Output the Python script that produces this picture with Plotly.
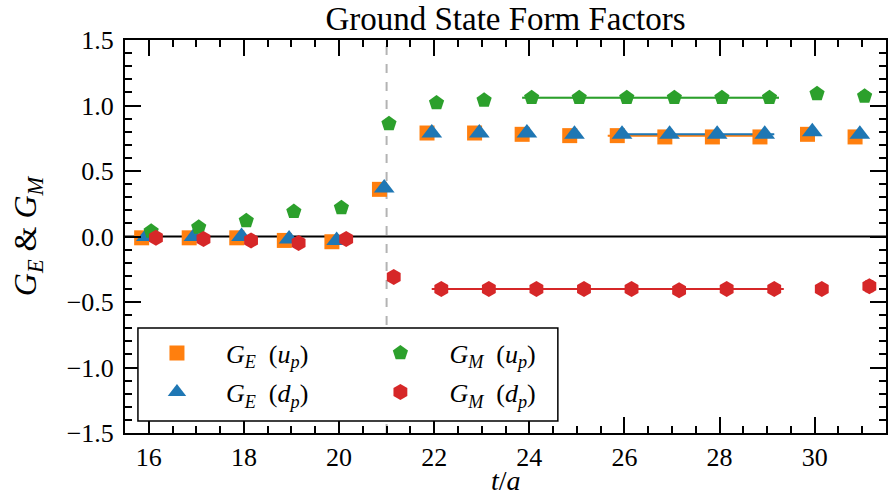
import plotly.graph_objects as go

# Euclidean time slices t/a
t = list(range(16, 32))

# Form factor ratios per time slice
ge_up = [-0.01, -0.01, -0.01, -0.03, -0.04, 0.36, 0.79, 0.79, 0.78, 0.77, 0.77, 0.76, 0.76, 0.76, 0.78, 0.76]
ge_up_err = [0.01, 0.01, 0.01, 0.01, 0.01, 0.01, 0.01, 0.01, 0.01, 0.01, 0.01, 0.01, 0.01, 0.01, 0.015, 0.02]
ge_dp = [0.00, 0.00, 0.00, -0.02, -0.03, 0.37, 0.79, 0.79, 0.79, 0.78, 0.78, 0.78, 0.78, 0.78, 0.80, 0.78]
ge_dp_err = [0.01, 0.01, 0.01, 0.01, 0.01, 0.01, 0.01, 0.01, 0.01, 0.01, 0.01, 0.01, 0.01, 0.01, 0.015, 0.02]
gm_up = [0.04, 0.07, 0.12, 0.19, 0.22, 0.86, 1.02, 1.04, 1.06, 1.06, 1.06, 1.06, 1.06, 1.06, 1.09, 1.07]
gm_up_err = [0.01, 0.01, 0.01, 0.01, 0.01, 0.01, 0.01, 0.01, 0.01, 0.01, 0.01, 0.01, 0.01, 0.015, 0.025, 0.035]
gm_dp = [-0.01, -0.02, -0.03, -0.05, -0.02, -0.31, -0.40, -0.40, -0.40, -0.40, -0.40, -0.41, -0.40, -0.40, -0.40, -0.38]
gm_dp_err = [0.01, 0.01, 0.01, 0.01, 0.01, 0.01, 0.01, 0.01, 0.01, 0.01, 0.01, 0.01, 0.01, 0.015, 0.025, 0.04]

# Plateau fits: (first slice, last slice, value, error)
fit_ge_up = (26, 29, 0.77, 0.005)
fit_ge_dp = (26, 29, 0.78, 0.005)
fit_gm_up = (24, 29, 1.06, 0.006)
fit_gm_dp = (22, 29, -0.40, 0.006)

# Source/sink separation marker
t_sep = 21

ORANGE, BLUE, GREEN, RED = "#ff7f0e", "#1f77b4", "#2ca02c", "#d62728"
FONT = "Liberation Serif"

# legend cells: two columns, two rows
COL_X = [0.0039, 0.2975]
ROW_Y = [0.2036, 0.1043]

series = [
    # name, values, errors, colour, symbol, size, x-shift, fit, legend id, (col, row)
    ("<i>G</i><sub><i>E</i></sub>  (<i>u</i><sub><i>p</i></sub>)", ge_up, ge_up_err, ORANGE, "square", 15, -0.15, fit_ge_up, "legend", (0, 0)),
    ("<i>G</i><sub><i>E</i></sub>  (<i>d</i><sub><i>p</i></sub>)", ge_dp, ge_dp_err, BLUE, "triangle-up", 18, -0.05, fit_ge_dp, "legend2", (0, 1)),
    ("<i>G</i><sub><i>M</i></sub>  (<i>u</i><sub><i>p</i></sub>)", gm_up, gm_up_err, GREEN, "pentagon", 16, 0.05, fit_gm_up, "legend3", (1, 0)),
    ("<i>G</i><sub><i>M</i></sub>  (<i>d</i><sub><i>p</i></sub>)", gm_dp, gm_dp_err, RED, "hexagon", 16, 0.15, fit_gm_dp, "legend4", (1, 1)),
]

fig = go.Figure()

# fit bands and lines, drawn beneath the points
for name, vals, errs, col, sym, size, dx, fit, leg, cell in series:
    t0, t1, val, err = fit
    xs = [t0 + dx - 0.2, t1 + dx + 0.2]
    fig.add_trace(go.Scatter(x=xs + xs[::-1], y=[val + err, val + err, val - err, val - err],
                             fill="toself", fillcolor=col, opacity=0.35, line=dict(width=0),
                             mode="lines", showlegend=False, hoverinfo="skip"))
    fig.add_trace(go.Scatter(x=xs, y=[val, val], mode="lines", line=dict(color=col, width=2),
                             showlegend=False, hoverinfo="skip"))

for name, vals, errs, col, sym, size, dx, fit, leg, cell in series:
    fig.add_trace(go.Scatter(
        x=[ti + dx for ti in t], y=vals, mode="markers", name=name,
        marker=dict(symbol=sym, size=size, color=col, line=dict(width=0)),
        error_y=dict(type="data", array=errs, color=col, thickness=1.5, width=4),
        legend=leg,
    ))

axis_common = dict(
    showline=True, linecolor="black", linewidth=2, mirror="ticks",
    ticks="inside", ticklen=16, tickwidth=1.5, tickcolor="black",
    showgrid=False, zeroline=False,
    tickfont=dict(family=FONT, size=26, color="black"),
)

fig.update_xaxes(range=[15.5, 31.5], tick0=16, dtick=2,
                 minor=dict(ticks="inside", ticklen=7, tickwidth=1.5, dtick=0.5, tick0=16, tickcolor="black"),
                 **axis_common)
fig.update_yaxes(range=[-1.5, 1.5], tick0=0, dtick=0.5, tickformat=".1f", ticklabelstandoff=4,
                 minor=dict(ticks="inside", ticklen=7, tickwidth=1.5, dtick=0.1, tick0=0, tickcolor="black"),
                 title=dict(text="<i>G</i><sub><i>E</i></sub> &amp; <i>G</i><sub><i>M</i></sub>",
                            font=dict(family=FONT, size=32, color="black"), standoff=20),
                 **axis_common)

# x-axis label
fig.add_annotation(text="<i>t</i>/<i>a</i>", xref="paper", yref="paper", x=0.5, y=-0.122,
                   xanchor="center", yanchor="middle", showarrow=False,
                   font=dict(family=FONT, size=28, color="black"))

# zero reference and separation marker
fig.add_hline(y=0, line=dict(color="black", width=2), layer="below")
fig.add_vline(x=t_sep, line=dict(color="#b3b3b3", width=2, dash="dash"), layer="below")

# legend frame
fig.add_shape(type="rect", xref="paper", yref="paper", x0=0.017, x1=0.5688, y0=0.0305, y1=0.267,
              line=dict(color="black", width=1.5), fillcolor="white", layer="above")

legends = {}
for name, vals, errs, col, sym, size, dx, fit, leg, (ci, ri) in series:
    legends[leg] = dict(x=COL_X[ci], y=ROW_Y[ri], xanchor="left", yanchor="middle",
                        bgcolor="rgba(0,0,0,0)", borderwidth=0, itemwidth=88,
                        font=dict(family=FONT, size=26, color="black"))

fig.update_layout(
    width=888, height=500,
    margin=dict(l=125, r=0, t=40, b=67),
    paper_bgcolor="white", plot_bgcolor="white",
    title=dict(text="Ground State Form Factors", font=dict(family=FONT, size=33, color="black"),
               xref="paper", x=0.5, xanchor="center", y=0.964, yanchor="middle"),
    **legends,
)

fig.write_html("out.html")
